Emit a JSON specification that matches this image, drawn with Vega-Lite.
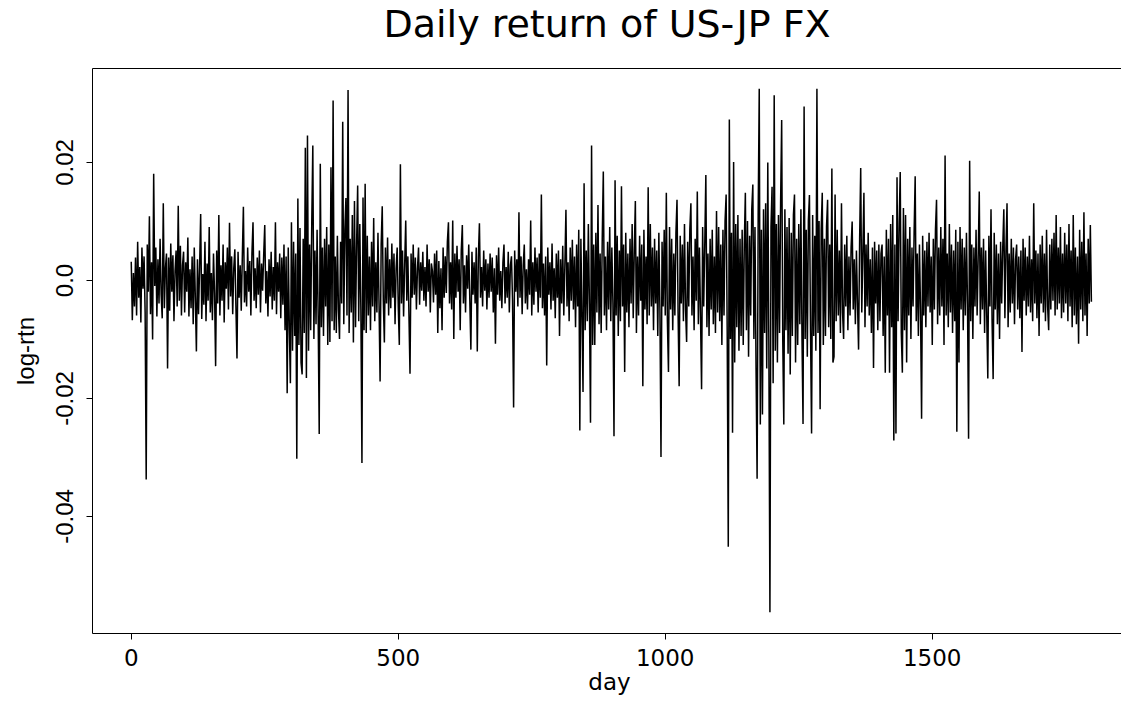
{
"$schema": "https://vega.github.io/schema/vega-lite/v6.json",
"width": 1030,
"height": 565,
"autosize": {"type": "none"},
"padding": {"left": 92, "top": 68, "right": 0, "bottom": 73},
"background": "white",
"config": {"view": {"stroke": "#000", "strokeWidth": 1}},
"title": {"text": "Daily return of US-JP FX", "font": "DejaVu Sans", "fontSize": 38, "fontWeight": "normal", "color": "#000", "baseline": "alphabetic", "offset": -7, "anchor": "middle"},
"data": {"values": [
{"day":1,"rtn":0.0031},{"day":3,"rtn":-0.0068},{"day":5,"rtn":0.0012},{"day":7,"rtn":-0.0045},{"day":9,"rtn":0.0038},{"day":11,"rtn":-0.006},{"day":13,"rtn":0.0065},{"day":15,"rtn":-0.003},{"day":17,"rtn":0.0022},{"day":19,"rtn":-0.0072},
{"day":21,"rtn":0.0055},{"day":23,"rtn":-0.0015},{"day":25,"rtn":0.004},{"day":27,"rtn":-0.0055},{"day":29,"rtn":-0.0338},{"day":31,"rtn":0.006},{"day":33,"rtn":-0.002},{"day":35,"rtn":0.0108},{"day":37,"rtn":-0.0058},{"day":39,"rtn":0.003},
{"day":41,"rtn":-0.0101},{"day":43,"rtn":0.018},{"day":45,"rtn":-0.001},{"day":47,"rtn":0.0055},{"day":49,"rtn":-0.0062},{"day":51,"rtn":0.0035},{"day":53,"rtn":-0.004},{"day":55,"rtn":0.007},{"day":57,"rtn":-0.0025},{"day":59,"rtn":-0.0065},
{"day":61,"rtn":0.013},{"day":63,"rtn":-0.0048},{"day":65,"rtn":0.002},{"day":67,"rtn":0.0045},{"day":69,"rtn":-0.015},{"day":71,"rtn":0.0038},{"day":73,"rtn":-0.0052},{"day":75,"rtn":0.0062},{"day":77,"rtn":-0.002},{"day":79,"rtn":0.0042},
{"day":81,"rtn":-0.007},{"day":83,"rtn":0.0015},{"day":85,"rtn":0.005},{"day":87,"rtn":-0.0045},{"day":89,"rtn":0.0126},{"day":91,"rtn":-0.0035},{"day":93,"rtn":0.0058},{"day":95,"rtn":-0.006},{"day":97,"rtn":0.0025},{"day":99,"rtn":0.0048},
{"day":101,"rtn":-0.0055},{"day":103,"rtn":0.003},{"day":105,"rtn":-0.002},{"day":107,"rtn":0.0072},{"day":109,"rtn":-0.0062},{"day":111,"rtn":0.0018},{"day":113,"rtn":-0.0048},{"day":115,"rtn":0.004},{"day":117,"rtn":-0.0075},{"day":119,"rtn":0.0055},
{"day":121,"rtn":-0.003},{"day":123,"rtn":-0.0121},{"day":125,"rtn":0.0035},{"day":127,"rtn":-0.0058},{"day":129,"rtn":0.0022},{"day":131,"rtn":0.0112},{"day":133,"rtn":-0.0066},{"day":135,"rtn":0.001},{"day":137,"rtn":-0.0042},{"day":139,"rtn":0.0065},
{"day":141,"rtn":-0.007},{"day":143,"rtn":0.0028},{"day":145,"rtn":-0.0035},{"day":147,"rtn":0.009},{"day":149,"rtn":-0.0055},{"day":151,"rtn":0.0012},{"day":153,"rtn":-0.0068},{"day":155,"rtn":0.0045},{"day":157,"rtn":-0.0022},{"day":159,"rtn":-0.0146},
{"day":161,"rtn":0.005},{"day":163,"rtn":-0.004},{"day":165,"rtn":0.011},{"day":167,"rtn":-0.006},{"day":169,"rtn":0.0025},{"day":171,"rtn":-0.0035},{"day":173,"rtn":0.006},{"day":175,"rtn":-0.0072},{"day":177,"rtn":0.003},{"day":179,"rtn":-0.0015},
{"day":181,"rtn":0.0055},{"day":183,"rtn":-0.005},{"day":185,"rtn":0.0097},{"day":187,"rtn":-0.0028},{"day":189,"rtn":0.004},{"day":191,"rtn":-0.0058},{"day":193,"rtn":0.002},{"day":195,"rtn":0.0052},{"day":197,"rtn":-0.0045},{"day":199,"rtn":-0.0133},
{"day":201,"rtn":0.0048},{"day":203,"rtn":-0.003},{"day":205,"rtn":0.0025},{"day":207,"rtn":-0.0052},{"day":209,"rtn":0.004},{"day":211,"rtn":0.0124},{"day":213,"rtn":-0.0038},{"day":215,"rtn":0.0015},{"day":217,"rtn":-0.0045},{"day":219,"rtn":0.0055},
{"day":221,"rtn":-0.002},{"day":223,"rtn":0.0032},{"day":225,"rtn":-0.006},{"day":227,"rtn":0.0045},{"day":229,"rtn":0.0098},{"day":231,"rtn":-0.0035},{"day":233,"rtn":0.002},{"day":235,"rtn":-0.0048},{"day":237,"rtn":0.0038},{"day":239,"rtn":-0.0025},
{"day":241,"rtn":0.005},{"day":243,"rtn":-0.0055},{"day":245,"rtn":0.0028},{"day":247,"rtn":-0.0018},{"day":249,"rtn":0.0042},{"day":251,"rtn":0.0093},{"day":253,"rtn":-0.004},{"day":255,"rtn":0.0015},{"day":257,"rtn":-0.0062},{"day":259,"rtn":0.0035},
{"day":261,"rtn":-0.0028},{"day":263,"rtn":0.0048},{"day":265,"rtn":-0.005},{"day":267,"rtn":0.0022},{"day":269,"rtn":-0.0035},{"day":271,"rtn":0.0098},{"day":273,"rtn":-0.0058},{"day":275,"rtn":0.003},{"day":277,"rtn":-0.002},{"day":279,"rtn":0.0045},
{"day":281,"rtn":-0.0065},{"day":283,"rtn":0.0038},{"day":285,"rtn":-0.0042},{"day":287,"rtn":0.006},{"day":289,"rtn":-0.0085},{"day":291,"rtn":0.004},{"day":293,"rtn":-0.0192},{"day":295,"rtn":0.0055},{"day":297,"rtn":-0.008},{"day":299,"rtn":-0.0175},
{"day":301,"rtn":0.0098},{"day":303,"rtn":-0.012},{"day":305,"rtn":0.0065},{"day":307,"rtn":-0.0095},{"day":309,"rtn":0.0045},{"day":311,"rtn":-0.0303},{"day":313,"rtn":0.0138},{"day":315,"rtn":-0.011},{"day":317,"rtn":0.0088},{"day":319,"rtn":-0.014},
{"day":321,"rtn":-0.016},{"day":323,"rtn":0.007},{"day":325,"rtn":-0.009},{"day":327,"rtn":0.0224},{"day":329,"rtn":-0.0166},{"day":331,"rtn":0.0245},{"day":333,"rtn":-0.012},{"day":335,"rtn":0.006},{"day":337,"rtn":-0.0085},{"day":339,"rtn":0.0095},
{"day":341,"rtn":0.0228},{"day":343,"rtn":-0.01},{"day":345,"rtn":0.005},{"day":347,"rtn":-0.0075},{"day":349,"rtn":0.0085},{"day":351,"rtn":-0.006},{"day":353,"rtn":-0.0261},{"day":355,"rtn":0.0197},{"day":357,"rtn":-0.008},{"day":359,"rtn":0.0055},
{"day":361,"rtn":-0.0095},{"day":363,"rtn":0.007},{"day":365,"rtn":-0.0045},{"day":367,"rtn":0.009},{"day":369,"rtn":-0.011},{"day":371,"rtn":0.006},{"day":373,"rtn":-0.0105},{"day":375,"rtn":0.0191},{"day":377,"rtn":-0.007},{"day":379,"rtn":0.0304},
{"day":381,"rtn":-0.0085},{"day":383,"rtn":0.004},{"day":385,"rtn":-0.009},{"day":387,"rtn":0.0075},{"day":389,"rtn":-0.005},{"day":391,"rtn":-0.01},{"day":393,"rtn":0.0065},{"day":395,"rtn":-0.004},{"day":397,"rtn":0.0268},{"day":399,"rtn":-0.0075},
{"day":401,"rtn":0.0085},{"day":403,"rtn":0.0139},{"day":405,"rtn":-0.006},{"day":407,"rtn":0.0322},{"day":409,"rtn":-0.009},{"day":411,"rtn":0.007},{"day":413,"rtn":-0.0055},{"day":415,"rtn":0.011},{"day":417,"rtn":-0.0106},{"day":419,"rtn":0.0134},
{"day":421,"rtn":-0.008},{"day":423,"rtn":0.006},{"day":425,"rtn":0.016},{"day":427,"rtn":-0.007},{"day":429,"rtn":0.0095},{"day":431,"rtn":-0.005},{"day":433,"rtn":-0.031},{"day":435,"rtn":0.014},{"day":437,"rtn":-0.0085},{"day":439,"rtn":0.0163},
{"day":441,"rtn":-0.009},{"day":443,"rtn":0.0075},{"day":445,"rtn":-0.006},{"day":447,"rtn":0.004},{"day":449,"rtn":-0.0085},{"day":451,"rtn":0.0065},{"day":453,"rtn":-0.0045},{"day":455,"rtn":0.0105},{"day":457,"rtn":-0.007},{"day":459,"rtn":0.003},
{"day":461,"rtn":-0.0055},{"day":463,"rtn":0.008},{"day":465,"rtn":-0.004},{"day":467,"rtn":-0.0172},{"day":469,"rtn":0.006},{"day":471,"rtn":0.0125},{"day":473,"rtn":-0.0035},{"day":475,"rtn":-0.0106},{"day":477,"rtn":0.0055},{"day":479,"rtn":-0.004},
{"day":481,"rtn":0.0072},{"day":483,"rtn":-0.006},{"day":485,"rtn":0.0035},{"day":487,"rtn":-0.0048},{"day":489,"rtn":0.0062},{"day":491,"rtn":-0.003},{"day":493,"rtn":0.0045},{"day":495,"rtn":-0.0075},{"day":497,"rtn":0.002},{"day":499,"rtn":0.0055},
{"day":501,"rtn":-0.0045},{"day":503,"rtn":-0.011},{"day":505,"rtn":0.0196},{"day":507,"rtn":-0.004},{"day":509,"rtn":0.005},{"day":511,"rtn":-0.0062},{"day":513,"rtn":0.0025},{"day":515,"rtn":0.0101},{"day":517,"rtn":-0.0035},{"day":519,"rtn":0.004},
{"day":521,"rtn":-0.0058},{"day":523,"rtn":-0.0159},{"day":525,"rtn":0.0045},{"day":527,"rtn":-0.003},{"day":529,"rtn":0.006},{"day":531,"rtn":-0.0025},{"day":533,"rtn":0.0038},{"day":535,"rtn":-0.005},{"day":537,"rtn":0.002},{"day":539,"rtn":0.0055},
{"day":541,"rtn":-0.0042},{"day":543,"rtn":0.003},{"day":545,"rtn":-0.0018},{"day":547,"rtn":0.0048},{"day":549,"rtn":-0.0035},{"day":551,"rtn":0.0022},{"day":553,"rtn":-0.0045},{"day":555,"rtn":0.006},{"day":557,"rtn":-0.002},{"day":559,"rtn":0.0035},
{"day":561,"rtn":-0.0055},{"day":563,"rtn":0.0028},{"day":565,"rtn":0.0015},{"day":567,"rtn":-0.0038},{"day":569,"rtn":0.0045},{"day":571,"rtn":-0.0025},{"day":573,"rtn":0.005},{"day":575,"rtn":-0.009},{"day":577,"rtn":0.0032},{"day":579,"rtn":-0.0048},
{"day":581,"rtn":0.002},{"day":583,"rtn":-0.0085},{"day":585,"rtn":0.0055},{"day":587,"rtn":-0.003},{"day":589,"rtn":0.004},{"day":591,"rtn":-0.0022},{"day":593,"rtn":0.0065},{"day":595,"rtn":0.0098},{"day":597,"rtn":-0.004},{"day":599,"rtn":0.003},
{"day":601,"rtn":-0.005},{"day":603,"rtn":0.0101},{"day":605,"rtn":-0.01},{"day":607,"rtn":0.0045},{"day":609,"rtn":-0.003},{"day":611,"rtn":0.0058},{"day":613,"rtn":-0.002},{"day":615,"rtn":0.0035},{"day":617,"rtn":-0.0085},{"day":619,"rtn":0.005},
{"day":621,"rtn":0.0093},{"day":623,"rtn":-0.004},{"day":625,"rtn":0.0025},{"day":627,"rtn":-0.0055},{"day":629,"rtn":0.0042},{"day":631,"rtn":-0.0015},{"day":633,"rtn":0.006},{"day":635,"rtn":-0.0035},{"day":637,"rtn":-0.0118},{"day":639,"rtn":0.0048},
{"day":641,"rtn":-0.0025},{"day":643,"rtn":0.003},{"day":645,"rtn":-0.004},{"day":647,"rtn":0.0055},{"day":649,"rtn":-0.0121},{"day":651,"rtn":0.004},{"day":653,"rtn":0.0096},{"day":655,"rtn":-0.003},{"day":657,"rtn":0.0022},{"day":659,"rtn":-0.0045},
{"day":661,"rtn":0.005},{"day":663,"rtn":-0.0018},{"day":665,"rtn":0.0035},{"day":667,"rtn":-0.005},{"day":669,"rtn":0.0028},{"day":671,"rtn":-0.003},{"day":673,"rtn":0.0045},{"day":675,"rtn":-0.002},{"day":677,"rtn":0.0038},{"day":679,"rtn":-0.0055},
{"day":681,"rtn":0.002},{"day":683,"rtn":-0.0108},{"day":685,"rtn":0.0042},{"day":687,"rtn":-0.0025},{"day":689,"rtn":0.0055},{"day":691,"rtn":-0.0035},{"day":693,"rtn":0.0015},{"day":695,"rtn":-0.0048},{"day":697,"rtn":0.003},{"day":699,"rtn":0.006},
{"day":701,"rtn":-0.004},{"day":703,"rtn":0.0022},{"day":705,"rtn":-0.003},{"day":707,"rtn":0.0048},{"day":709,"rtn":-0.0055},{"day":711,"rtn":0.0025},{"day":713,"rtn":0.004},{"day":715,"rtn":-0.0035},{"day":717,"rtn":-0.0216},{"day":719,"rtn":0.005},
{"day":721,"rtn":-0.002},{"day":723,"rtn":0.0035},{"day":725,"rtn":-0.0045},{"day":727,"rtn":0.0115},{"day":729,"rtn":-0.003},{"day":731,"rtn":0.004},{"day":733,"rtn":-0.0058},{"day":735,"rtn":0.0025},{"day":737,"rtn":0.006},{"day":739,"rtn":-0.004},
{"day":741,"rtn":0.0018},{"day":743,"rtn":-0.005},{"day":745,"rtn":0.0035},{"day":747,"rtn":-0.0025},{"day":749,"rtn":0.0101},{"day":751,"rtn":-0.006},{"day":753,"rtn":0.003},{"day":755,"rtn":-0.0042},{"day":757,"rtn":0.0055},{"day":759,"rtn":-0.002},
{"day":761,"rtn":0.0038},{"day":763,"rtn":-0.0055},{"day":765,"rtn":0.0045},{"day":767,"rtn":-0.003},{"day":769,"rtn":0.0145},{"day":771,"rtn":-0.0048},{"day":773,"rtn":0.0028},{"day":775,"rtn":-0.006},{"day":777,"rtn":0.004},{"day":779,"rtn":-0.0145},
{"day":781,"rtn":0.0055},{"day":783,"rtn":-0.0025},{"day":785,"rtn":0.003},{"day":787,"rtn":-0.005},{"day":789,"rtn":0.0062},{"day":791,"rtn":-0.0035},{"day":793,"rtn":0.002},{"day":795,"rtn":-0.0065},{"day":797,"rtn":0.0045},{"day":799,"rtn":-0.003},
{"day":801,"rtn":0.005},{"day":803,"rtn":-0.0095},{"day":805,"rtn":0.0035},{"day":807,"rtn":-0.004},{"day":809,"rtn":0.0058},{"day":811,"rtn":-0.006},{"day":813,"rtn":0.0025},{"day":815,"rtn":0.0119},{"day":817,"rtn":-0.0045},{"day":819,"rtn":0.003},
{"day":821,"rtn":-0.007},{"day":823,"rtn":0.0055},{"day":825,"rtn":-0.0035},{"day":827,"rtn":0.0068},{"day":829,"rtn":-0.005},{"day":831,"rtn":0.004},{"day":833,"rtn":-0.008},{"day":835,"rtn":0.006},{"day":837,"rtn":-0.0045},{"day":839,"rtn":0.0085},
{"day":841,"rtn":-0.0255},{"day":843,"rtn":0.007},{"day":845,"rtn":-0.006},{"day":847,"rtn":-0.019},{"day":849,"rtn":0.0164},{"day":851,"rtn":-0.0085},{"day":853,"rtn":0.005},{"day":855,"rtn":-0.007},{"day":857,"rtn":0.0095},{"day":859,"rtn":-0.004},
{"day":861,"rtn":-0.0242},{"day":863,"rtn":0.0228},{"day":865,"rtn":-0.011},{"day":867,"rtn":0.006},{"day":869,"rtn":-0.011},{"day":871,"rtn":0.008},{"day":873,"rtn":-0.0055},{"day":875,"rtn":0.0127},{"day":877,"rtn":-0.0075},{"day":879,"rtn":0.0045},
{"day":881,"rtn":-0.009},{"day":883,"rtn":0.007},{"day":885,"rtn":0.0184},{"day":887,"rtn":-0.006},{"day":889,"rtn":0.004},{"day":891,"rtn":-0.0085},{"day":893,"rtn":0.0065},{"day":895,"rtn":-0.005},{"day":897,"rtn":0.009},{"day":899,"rtn":-0.007},
{"day":901,"rtn":0.0055},{"day":903,"rtn":-0.004},{"day":905,"rtn":-0.0265},{"day":907,"rtn":0.0169},{"day":909,"rtn":-0.006},{"day":911,"rtn":0.0075},{"day":913,"rtn":-0.0095},{"day":915,"rtn":0.005},{"day":917,"rtn":-0.007},{"day":919,"rtn":0.0159},
{"day":921,"rtn":-0.0045},{"day":923,"rtn":0.006},{"day":925,"rtn":-0.0156},{"day":927,"rtn":0.008},{"day":929,"rtn":-0.0055},{"day":931,"rtn":0.0045},{"day":933,"rtn":-0.008},{"day":935,"rtn":0.007},{"day":937,"rtn":-0.004},{"day":939,"rtn":0.0095},
{"day":941,"rtn":-0.0065},{"day":943,"rtn":0.005},{"day":945,"rtn":0.0134},{"day":947,"rtn":-0.009},{"day":949,"rtn":0.004},{"day":951,"rtn":-0.006},{"day":953,"rtn":0.0075},{"day":955,"rtn":-0.0035},{"day":957,"rtn":0.006},{"day":959,"rtn":-0.018},
{"day":961,"rtn":0.0085},{"day":963,"rtn":-0.005},{"day":965,"rtn":0.004},{"day":967,"rtn":-0.0075},{"day":969,"rtn":0.0157},{"day":971,"rtn":-0.006},{"day":973,"rtn":0.0095},{"day":975,"rtn":-0.0045},{"day":977,"rtn":0.0055},{"day":979,"rtn":-0.0085},
{"day":981,"rtn":0.007},{"day":983,"rtn":-0.004},{"day":985,"rtn":0.005},{"day":987,"rtn":-0.0095},{"day":989,"rtn":0.008},{"day":991,"rtn":-0.005},{"day":993,"rtn":-0.03},{"day":995,"rtn":0.0065},{"day":997,"rtn":-0.0045},{"day":999,"rtn":0.0085},
{"day":1001,"rtn":-0.006},{"day":1003,"rtn":0.0148},{"day":1005,"rtn":-0.007},{"day":1007,"rtn":-0.0156},{"day":1009,"rtn":0.009},{"day":1011,"rtn":-0.005},{"day":1013,"rtn":0.007},{"day":1015,"rtn":-0.0085},{"day":1017,"rtn":0.0045},{"day":1019,"rtn":-0.006},
{"day":1021,"rtn":0.008},{"day":1023,"rtn":0.0136},{"day":1025,"rtn":-0.0055},{"day":1027,"rtn":-0.018},{"day":1029,"rtn":0.0075},{"day":1031,"rtn":-0.004},{"day":1033,"rtn":0.006},{"day":1035,"rtn":-0.007},{"day":1037,"rtn":0.0095},{"day":1039,"rtn":-0.005},
{"day":1041,"rtn":-0.0105},{"day":1043,"rtn":0.0065},{"day":1045,"rtn":-0.0045},{"day":1047,"rtn":0.0085},{"day":1049,"rtn":0.013},{"day":1051,"rtn":-0.006},{"day":1053,"rtn":0.004},{"day":1055,"rtn":-0.0085},{"day":1057,"rtn":0.007},{"day":1059,"rtn":-0.0035},
{"day":1061,"rtn":0.015},{"day":1063,"rtn":-0.0075},{"day":1065,"rtn":0.0055},{"day":1067,"rtn":-0.006},{"day":1069,"rtn":-0.0185},{"day":1071,"rtn":0.009},{"day":1073,"rtn":-0.0045},{"day":1075,"rtn":0.006},{"day":1077,"rtn":0.0178},{"day":1079,"rtn":-0.008},
{"day":1081,"rtn":0.0045},{"day":1083,"rtn":-0.0095},{"day":1085,"rtn":0.007},{"day":1087,"rtn":-0.005},{"day":1089,"rtn":0.0085},{"day":1091,"rtn":-0.0075},{"day":1093,"rtn":0.004},{"day":1095,"rtn":-0.009},{"day":1097,"rtn":0.0117},{"day":1099,"rtn":-0.0055},
{"day":1101,"rtn":0.009},{"day":1103,"rtn":-0.007},{"day":1105,"rtn":0.006},{"day":1107,"rtn":-0.011},{"day":1109,"rtn":0.0085},{"day":1111,"rtn":-0.006},{"day":1113,"rtn":0.01},{"day":1115,"rtn":0.0145},{"day":1117,"rtn":-0.009},{"day":1119,"rtn":-0.0452},
{"day":1121,"rtn":0.0272},{"day":1123,"rtn":-0.01},{"day":1125,"rtn":0.008},{"day":1127,"rtn":-0.0259},{"day":1129,"rtn":0.02},{"day":1131,"rtn":-0.014},{"day":1133,"rtn":0.0095},{"day":1135,"rtn":-0.008},{"day":1137,"rtn":0.011},{"day":1139,"rtn":-0.012},
{"day":1141,"rtn":0.007},{"day":1143,"rtn":-0.0095},{"day":1145,"rtn":0.0085},{"day":1147,"rtn":-0.011},{"day":1149,"rtn":0.006},{"day":1151,"rtn":0.0148},{"day":1153,"rtn":-0.0085},{"day":1155,"rtn":0.01},{"day":1157,"rtn":-0.013},{"day":1159,"rtn":0.0075},
{"day":1161,"rtn":-0.006},{"day":1163,"rtn":0.012},{"day":1165,"rtn":0.0162},{"day":1167,"rtn":-0.01},{"day":1169,"rtn":0.009},{"day":1171,"rtn":-0.015},{"day":1173,"rtn":-0.0337},{"day":1175,"rtn":0.011},{"day":1177,"rtn":0.0324},{"day":1179,"rtn":-0.0245},
{"day":1181,"rtn":0.0085},{"day":1183,"rtn":-0.0228},{"day":1185,"rtn":0.012},{"day":1187,"rtn":-0.009},{"day":1189,"rtn":0.013},{"day":1191,"rtn":-0.015},{"day":1193,"rtn":0.0199},{"day":1195,"rtn":-0.011},{"day":1197,"rtn":-0.0563},{"day":1199,"rtn":0.009},
{"day":1201,"rtn":0.0158},{"day":1203,"rtn":-0.0175},{"day":1205,"rtn":0.0313},{"day":1207,"rtn":-0.012},{"day":1209,"rtn":0.0095},{"day":1211,"rtn":-0.014},{"day":1213,"rtn":0.011},{"day":1215,"rtn":-0.009},{"day":1217,"rtn":0.013},{"day":1219,"rtn":0.0271},
{"day":1221,"rtn":-0.01},{"day":1223,"rtn":-0.0245},{"day":1225,"rtn":0.012},{"day":1227,"rtn":-0.0085},{"day":1229,"rtn":0.009},{"day":1231,"rtn":-0.0125},{"day":1233,"rtn":0.0105},{"day":1235,"rtn":-0.016},{"day":1237,"rtn":0.008},{"day":1239,"rtn":-0.0095},
{"day":1241,"rtn":0.011},{"day":1243,"rtn":0.0145},{"day":1245,"rtn":-0.014},{"day":1247,"rtn":0.007},{"day":1249,"rtn":-0.011},{"day":1251,"rtn":0.0095},{"day":1253,"rtn":-0.0075},{"day":1255,"rtn":0.012},{"day":1257,"rtn":-0.0095},{"day":1259,"rtn":-0.0244},
{"day":1261,"rtn":0.0294},{"day":1263,"rtn":-0.01},{"day":1265,"rtn":0.0085},{"day":1267,"rtn":-0.013},{"day":1269,"rtn":0.01},{"day":1271,"rtn":0.0144},{"day":1273,"rtn":-0.0085},{"day":1275,"rtn":-0.026},{"day":1277,"rtn":0.011},{"day":1279,"rtn":-0.0095},
{"day":1281,"rtn":0.0075},{"day":1283,"rtn":-0.012},{"day":1285,"rtn":0.0324},{"day":1287,"rtn":-0.009},{"day":1289,"rtn":0.01},{"day":1291,"rtn":-0.0219},{"day":1293,"rtn":0.0085},{"day":1295,"rtn":0.0148},{"day":1297,"rtn":-0.011},{"day":1299,"rtn":0.007},
{"day":1301,"rtn":-0.0095},{"day":1303,"rtn":0.009},{"day":1305,"rtn":0.0136},{"day":1307,"rtn":-0.008},{"day":1309,"rtn":0.006},{"day":1311,"rtn":-0.01},{"day":1313,"rtn":0.0189},{"day":1315,"rtn":-0.014},{"day":1317,"rtn":-0.013},{"day":1319,"rtn":0.0145},
{"day":1321,"rtn":-0.007},{"day":1323,"rtn":0.0085},{"day":1325,"rtn":-0.006},{"day":1327,"rtn":0.005},{"day":1329,"rtn":-0.009},{"day":1331,"rtn":0.013},{"day":1333,"rtn":-0.0055},{"day":1335,"rtn":-0.01},{"day":1337,"rtn":0.006},{"day":1339,"rtn":-0.0045},
{"day":1341,"rtn":0.0075},{"day":1343,"rtn":-0.0085},{"day":1345,"rtn":0.004},{"day":1347,"rtn":-0.006},{"day":1349,"rtn":0.0055},{"day":1351,"rtn":0.0099},{"day":1353,"rtn":-0.005},{"day":1355,"rtn":0.0035},{"day":1357,"rtn":-0.0075},{"day":1359,"rtn":0.005},
{"day":1361,"rtn":-0.004},{"day":1363,"rtn":-0.0118},{"day":1365,"rtn":0.007},{"day":1367,"rtn":0.019},{"day":1369,"rtn":-0.0055},{"day":1371,"rtn":0.0045},{"day":1373,"rtn":0.0148},{"day":1375,"rtn":-0.008},{"day":1377,"rtn":0.006},{"day":1379,"rtn":-0.0045},
{"day":1381,"rtn":0.008},{"day":1383,"rtn":-0.006},{"day":1385,"rtn":0.0035},{"day":1387,"rtn":-0.009},{"day":1389,"rtn":0.0055},{"day":1391,"rtn":-0.0149},{"day":1393,"rtn":0.0065},{"day":1395,"rtn":-0.004},{"day":1397,"rtn":0.005},{"day":1399,"rtn":-0.0085},
{"day":1401,"rtn":0.006},{"day":1403,"rtn":-0.007},{"day":1405,"rtn":0.0045},{"day":1407,"rtn":0.006},{"day":1409,"rtn":-0.0095},{"day":1411,"rtn":0.004},{"day":1413,"rtn":-0.0157},{"day":1415,"rtn":0.0085},{"day":1417,"rtn":-0.006},{"day":1419,"rtn":0.007},
{"day":1421,"rtn":-0.0157},{"day":1423,"rtn":0.0095},{"day":1425,"rtn":-0.008},{"day":1427,"rtn":0.011},{"day":1429,"rtn":-0.0272},{"day":1431,"rtn":0.006},{"day":1433,"rtn":-0.026},{"day":1435,"rtn":0.0174},{"day":1437,"rtn":-0.007},{"day":1439,"rtn":0.0095},
{"day":1441,"rtn":0.0183},{"day":1443,"rtn":-0.009},{"day":1445,"rtn":-0.0157},{"day":1447,"rtn":0.0122},{"day":1449,"rtn":-0.0085},{"day":1451,"rtn":0.011},{"day":1453,"rtn":-0.014},{"day":1455,"rtn":0.007},{"day":1457,"rtn":-0.006},{"day":1459,"rtn":0.009},
{"day":1461,"rtn":-0.01},{"day":1463,"rtn":0.0055},{"day":1465,"rtn":-0.0045},{"day":1467,"rtn":0.008},{"day":1469,"rtn":0.0176},{"day":1471,"rtn":-0.007},{"day":1473,"rtn":0.0045},{"day":1475,"rtn":-0.0095},{"day":1477,"rtn":0.006},{"day":1479,"rtn":-0.005},
{"day":1481,"rtn":-0.0235},{"day":1483,"rtn":0.0075},{"day":1485,"rtn":-0.006},{"day":1487,"rtn":0.005},{"day":1489,"rtn":-0.008},{"day":1491,"rtn":0.0065},{"day":1493,"rtn":-0.0045},{"day":1495,"rtn":0.008},{"day":1497,"rtn":-0.0055},{"day":1499,"rtn":0.004},
{"day":1501,"rtn":-0.011},{"day":1503,"rtn":0.007},{"day":1505,"rtn":-0.005},{"day":1507,"rtn":0.0085},{"day":1509,"rtn":0.0136},{"day":1511,"rtn":-0.0075},{"day":1513,"rtn":0.0055},{"day":1515,"rtn":-0.006},{"day":1517,"rtn":0.009},{"day":1519,"rtn":-0.0045},
{"day":1521,"rtn":0.007},{"day":1523,"rtn":-0.011},{"day":1525,"rtn":0.0211},{"day":1527,"rtn":-0.006},{"day":1529,"rtn":0.0045},{"day":1531,"rtn":-0.008},{"day":1533,"rtn":0.0095},{"day":1535,"rtn":-0.0055},{"day":1537,"rtn":0.006},{"day":1539,"rtn":-0.009},
{"day":1541,"rtn":0.005},{"day":1543,"rtn":-0.007},{"day":1545,"rtn":0.0085},{"day":1547,"rtn":-0.0257},{"day":1549,"rtn":0.0065},{"day":1551,"rtn":-0.014},{"day":1553,"rtn":0.009},{"day":1555,"rtn":-0.005},{"day":1557,"rtn":0.007},{"day":1559,"rtn":-0.0085},
{"day":1561,"rtn":0.0055},{"day":1563,"rtn":-0.006},{"day":1565,"rtn":0.008},{"day":1567,"rtn":-0.004},{"day":1569,"rtn":-0.0269},{"day":1571,"rtn":0.0202},{"day":1573,"rtn":-0.007},{"day":1575,"rtn":0.006},{"day":1577,"rtn":-0.01},{"day":1579,"rtn":0.0055},
{"day":1581,"rtn":-0.0045},{"day":1583,"rtn":0.0085},{"day":1585,"rtn":-0.006},{"day":1587,"rtn":0.004},{"day":1589,"rtn":0.015},{"day":1591,"rtn":-0.0075},{"day":1593,"rtn":0.0055},{"day":1595,"rtn":-0.005},{"day":1597,"rtn":0.007},{"day":1599,"rtn":-0.009},
{"day":1601,"rtn":0.005},{"day":1603,"rtn":-0.006},{"day":1605,"rtn":-0.0167},{"day":1607,"rtn":0.0075},{"day":1609,"rtn":-0.0045},{"day":1611,"rtn":0.012},{"day":1613,"rtn":-0.007},{"day":1615,"rtn":-0.0168},{"day":1617,"rtn":0.008},{"day":1619,"rtn":-0.005},
{"day":1621,"rtn":0.006},{"day":1623,"rtn":-0.0075},{"day":1625,"rtn":0.0045},{"day":1627,"rtn":-0.01},{"day":1629,"rtn":0.0065},{"day":1631,"rtn":-0.004},{"day":1633,"rtn":0.0055},{"day":1635,"rtn":0.012},{"day":1637,"rtn":-0.0065},{"day":1639,"rtn":0.005},
{"day":1641,"rtn":0.013},{"day":1643,"rtn":-0.008},{"day":1645,"rtn":0.0045},{"day":1647,"rtn":-0.0055},{"day":1649,"rtn":0.007},{"day":1651,"rtn":-0.004},{"day":1653,"rtn":0.0055},{"day":1655,"rtn":-0.0075},{"day":1657,"rtn":0.0035},{"day":1659,"rtn":0.006},
{"day":1661,"rtn":-0.005},{"day":1663,"rtn":0.004},{"day":1665,"rtn":-0.0065},{"day":1667,"rtn":0.005},{"day":1669,"rtn":-0.0122},{"day":1671,"rtn":0.007},{"day":1673,"rtn":-0.0035},{"day":1675,"rtn":0.0055},{"day":1677,"rtn":-0.006},{"day":1679,"rtn":0.004},
{"day":1681,"rtn":-0.0045},{"day":1683,"rtn":0.0075},{"day":1685,"rtn":-0.0055},{"day":1687,"rtn":0.0035},{"day":1689,"rtn":-0.007},{"day":1691,"rtn":0.013},{"day":1693,"rtn":-0.004},{"day":1695,"rtn":0.005},{"day":1697,"rtn":-0.0065},{"day":1699,"rtn":0.0045},
{"day":1701,"rtn":-0.0095},{"day":1703,"rtn":0.006},{"day":1705,"rtn":-0.004},{"day":1707,"rtn":0.0075},{"day":1709,"rtn":-0.0055},{"day":1711,"rtn":0.0045},{"day":1713,"rtn":-0.007},{"day":1715,"rtn":0.0085},{"day":1717,"rtn":-0.0045},{"day":1719,"rtn":-0.0085},
{"day":1721,"rtn":0.006},{"day":1723,"rtn":-0.005},{"day":1725,"rtn":0.007},{"day":1727,"rtn":-0.0035},{"day":1729,"rtn":0.008},{"day":1731,"rtn":-0.006},{"day":1733,"rtn":0.011},{"day":1735,"rtn":-0.005},{"day":1737,"rtn":0.0055},{"day":1739,"rtn":-0.004},
{"day":1741,"rtn":0.009},{"day":1743,"rtn":-0.0065},{"day":1745,"rtn":0.0045},{"day":1747,"rtn":-0.0055},{"day":1749,"rtn":0.008},{"day":1751,"rtn":-0.004},{"day":1753,"rtn":0.006},{"day":1755,"rtn":-0.007},{"day":1757,"rtn":0.0095},{"day":1759,"rtn":-0.0045},
{"day":1761,"rtn":0.005},{"day":1763,"rtn":-0.008},{"day":1765,"rtn":0.011},{"day":1767,"rtn":-0.006},{"day":1769,"rtn":0.0055},{"day":1771,"rtn":-0.0075},{"day":1773,"rtn":0.004},{"day":1775,"rtn":-0.0108},{"day":1777,"rtn":0.0085},{"day":1779,"rtn":-0.005},
{"day":1781,"rtn":0.0065},{"day":1783,"rtn":-0.007},{"day":1785,"rtn":0.0115},{"day":1787,"rtn":-0.006},{"day":1789,"rtn":0.0045},{"day":1791,"rtn":-0.0095},{"day":1793,"rtn":0.007},{"day":1795,"rtn":-0.004},{"day":1797,"rtn":0.0093},{"day":1799,"rtn":-0.0037}
]},
"mark": {"type": "line", "color": "#000", "strokeWidth": 1.5, "clip": true},
"encoding": {
"x": {"field": "day", "type": "quantitative", "scale": {"domain": [-72.5, 1856.3], "nice": false, "zero": false},
"axis": {"title": "day", "values": [0, 500, 1000, 1500], "grid": false, "domain": false, "ticks": true, "tickSize": 6, "tickColor": "#000", "tickWidth": 1, "labelFont": "DejaVu Sans", "labelFontSize": 23, "labelColor": "#000", "labelPadding": 8, "labelFlush": false, "labelOverlap": false, "format": "d", "titleFont": "DejaVu Sans", "titleFontSize": 23, "titleFontWeight": "normal", "titleColor": "#000", "titleBaseline": "alphabetic", "titleY": 56, "titleX": 517}},
"y": {"field": "rtn", "type": "quantitative", "scale": {"domain": [-0.05983, 0.03593], "nice": false, "zero": false},
"axis": {"title": "log-rtn", "values": [-0.04, -0.02, 0, 0.02], "grid": false, "domain": false, "ticks": true, "tickSize": 6, "tickColor": "#000", "tickWidth": 1, "labelAngle": -90, "labelAlign": "center", "labelBaseline": "alphabetic", "labelPadding": 13.5, "labelFont": "Liberation Sans", "labelFontSize": 24, "labelColor": "#000", "labelFlush": false, "labelOverlap": false, "labelExpr": "datum.value == 0 ? '0.0' : (datum.value < 0 ? '-' + format(-datum.value, '.2f') : format(datum.value, '.2f'))", "titleFont": "Liberation Sans", "titleFontSize": 24, "titleFontWeight": "normal", "titleColor": "#000", "titleAngle": -90, "titleAlign": "center", "titleBaseline": "alphabetic", "titleX": -59, "titleY": 282.5}}
}
}
